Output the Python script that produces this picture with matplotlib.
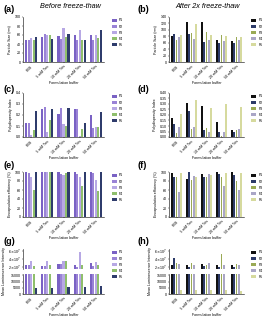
import numpy as np
import matplotlib
matplotlib.use("Agg")
import matplotlib.pyplot as plt
from matplotlib.patches import Patch

plt.rcParams['font.family'] = ['Liberation Sans', 'DejaVu Sans']

W, H = 272, 317

buffers = ["PBS", "5 mM Tris", "10 mM Tris", "20 mM Tris", "50 mM Tris"]
forms = ["F1", "F2", "F3", "F4", "F5"]

# colours for the two columns
cols_before = ["#7a62c4", "#9a83d6", "#b7a8e4", "#8fbf6c", "#2f3c6c"]
cols_after = ["#111111", "#2c3a68", "#9aaa55", "#aaa6c6", "#d6da9e"]

# particle size (nm), rows = formulation F1..F5, cols = buffers
size_before = [
    [50, 56, 57, 61, 59],
    [49, 62, 52, 50, 50],
    [54, 59, 76, 71, 59],
    [49, 59, 55, 50, 54],
    [56, 52, 62, 48, 71],
]
size_after = [
    [82, 123, 123, 70, 65],
    [88, 88, 63, 58, 59],
    [70, 91, 93, 85, 77],
    [78, 73, 68, 65, 67],
    [85, 117, 83, 80, 78],
]

# polydispersity index
pdi_before = [
    [0.13, 0.25, 0.21, 0.25, 0.20],
    [0.13, 0.27, 0.26, 0.25, 0.08],
    [0.02, 0.05, 0.12, 0.01, 0.09],
    [0.06, 0.15, 0.10, 0.07, 0.09],
    [0.24, 0.25, 0.26, 0.13, 0.23],
]
pdi_after = [
    [0.17, 0.31, 0.28, 0.14, 0.06],
    [0.12, 0.24, 0.06, 0.05, 0.05],
    [0.04, 0.07, 0.08, 0.005, 0.06],
    [0.09, 0.09, 0.05, 0.05, 0.07],
    [0.21, 0.34, 0.26, 0.30, 0.27],
]

# encapsulation efficiency (%)
ee_before = [
    [100, 99, 99, 99, 99],
    [97, 99, 95, 95, 97],
    [90, 99, 93, 90, 82],
    [60, 99, 98, 70, 57],
    [99, 99, 99, 99, 99],
]
ee_after = [
    [97, 85, 95, 99, 99],
    [90, 99, 90, 95, 93],
    [88, 82, 88, 88, 80],
    [55, 92, 95, 68, 60],
    [97, 88, 93, 97, 97],
]

# mean luminescence intensity
lum_before = [
    [2.4e7, 2.2e7, 2.8e7, 2.6e7, 3.0e7],
    [2.4e7, 2.2e7, 2.8e7, 2.1e7, 2.2e7],
    [3.4e7, 3.6e7, 3.4e7, 5.7e7, 3.2e7],
    [2.2e7, 2.4e7, 3.5e7, 2.4e7, 2.4e7],
    [5000, 4800, 6000, 6000, 6500],
]
lum_after = [
    [2.4e7, 2.4e7, 2.8e7, 2.4e7, 2.6e7],
    [4.3e7, 2.1e7, 2.2e7, 2.1e7, 2.1e7],
    [3.0e7, 3.0e7, 2.6e7, 5.3e7, 2.8e7],
    [2.8e7, 2.4e7, 3.0e7, 2.4e7, 2.4e7],
    [3200, 3200, 3200, 3200, 2800],
]

FS = 2.6


def box(x0, y0, x1, y1):
    return [x0 / W, 1 - y1 / H, (x1 - x0) / W, (y1 - y0) / H]


def bars(ax, data, colors):
    x = np.arange(len(buffers))
    w = 0.155
    for i, vals in enumerate(data):
        ax.bar(x + (i - 2) * w, vals, w * 0.85, color=colors[i], linewidth=0)
    ax.set_xlim(-0.5, len(buffers) - 0.5)


def style(ax, show_x=True):
    for s in ['top', 'right']:
        ax.spines[s].set_visible(False)
    for s in ['left', 'bottom']:
        ax.spines[s].set_linewidth(0.4)
    ax.tick_params(labelsize=FS, width=0.3, length=1, pad=0.8)
    ax.set_xticks(np.arange(len(buffers)))
    if show_x:
        ax.set_xticklabels(buffers, rotation=45, ha='right', rotation_mode='anchor')
    else:
        ax.set_xticklabels([])


def legend(ax, colors):
    handles = [Patch(facecolor=c, linewidth=0) for c in colors]
    ax.legend(handles, forms, loc='upper left', bbox_to_anchor=(1.08, 1.0),
              frameon=False, fontsize=FS, handlelength=1.3, handleheight=0.8,
              labelspacing=0.6, handletextpad=0.6, borderaxespad=0)


fig = plt.figure(figsize=(W / 100, H / 100), dpi=100)

lefts = [(23, 104), (169, 244)]
rows = [(17, 62), (93, 137), (172, 217), (249, 294)]
colsets = [cols_before, cols_after]
labels = [["(a)", "(b)"], ["(c)", "(d)"], ["(e)", "(f)"], ["(g)", "(h)"]]
label_y = [9, 89, 165, 242]

panels = [
    (size_before, size_after, "Particle Size (nm)"),
    (pdi_before, pdi_after, "Polydispersity Index"),
    (ee_before, ee_after, "Encapsulation efficiency (%)"),
]

for r, (db, da, ylab) in enumerate(panels):
    for c, data in enumerate([db, da]):
        x0, x1 = lefts[c]
        y0, y1 = rows[r]
        ax = fig.add_axes(box(x0, y0, x1, y1))
        bars(ax, data, colsets[c])
        style(ax)
        if r == 0:
            if c == 0:
                ax.set_ylim(0, 100)
                ax.set_yticks(np.arange(0, 101, 20))
            else:
                ax.set_ylim(0, 140)
                ax.set_yticks(np.arange(0, 141, 20))
        elif r == 1:
            if c == 0:
                ax.set_ylim(0, 0.4)
                ax.set_yticks(np.arange(0, 0.41, 0.1))
            else:
                ax.set_ylim(0, 0.4)
                ax.set_yticks(np.arange(0, 0.41, 0.05))
        else:
            ax.set_ylim(0, 100)
            ax.set_yticks(np.arange(0, 101, 20))
        ax.set_ylabel(ylab, fontsize=FS, labelpad=1.5)
        ax.set_xlabel("Formulation buffer", fontsize=FS, labelpad=1)
        legend(ax, colsets[c])

# luminescence panels with a broken y axis
for c, data in enumerate([lum_before, lum_after]):
    x0, x1 = lefts[c]
    y0, y1 = rows[3]
    top = fig.add_axes(box(x0, y0, x1, 269))
    bot = fig.add_axes(box(x0, 274, x1, y1))
    bars(top, data, colsets[c])
    bars(bot, data, colsets[c])
    style(top, show_x=False)
    style(bot)
    top.spines['bottom'].set_visible(False)
    top.tick_params(axis='x', length=0)
    top.set_ylim(1.5e7, 6.5e7)
    top.set_yticks([2e7, 4e7, 6e7])
    top.set_yticklabels([r"2$\times$10$^7$", r"4$\times$10$^7$", r"6$\times$10$^7$"])
    bot.set_ylim(0, 16000)
    bot.set_yticks([0, 5000, 10000, 15000])
    bot.set_xlabel("Formulation buffer", fontsize=FS, labelpad=1)
    fig.text((x0 - 19) / W, 1 - 271 / H, "Mean Luminescence Intensity", fontsize=FS,
             rotation=90, ha='center', va='center')
    legend(top, colsets[c])

for r in range(4):
    fig.text(3 / W, 1 - label_y[r] / H, labels[r][0], fontsize=6.5, fontweight='bold',
             va='center')
    fig.text(138 / W, 1 - label_y[r] / H, labels[r][1], fontsize=6.5, fontweight='bold',
             va='center')

fig.text(70 / W, 1 - 7 / H, "Before freeze-thaw", fontsize=5.2, style='italic',
         ha='center', va='center')
fig.text(208 / W, 1 - 7 / H, "After 2x freeze-thaw", fontsize=5.2, style='italic',
         ha='center', va='center')

fig.savefig("out.png", dpi=100)
